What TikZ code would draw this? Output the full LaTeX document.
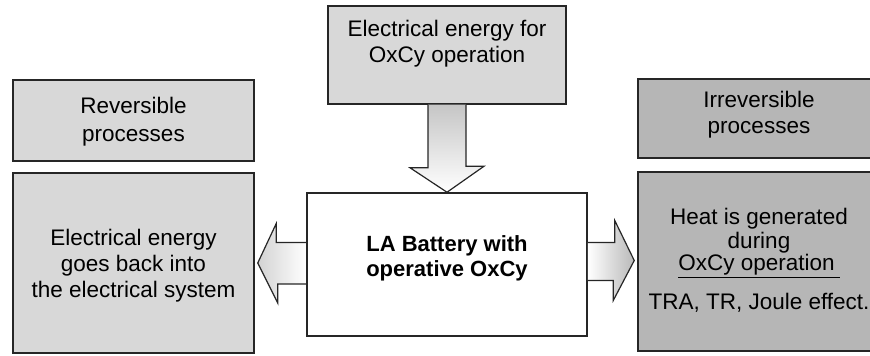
\documentclass[tikz,border=0pt]{standalone}
\usepackage{fontspec}
\setmainfont{Liberation Sans}
\usepackage{xcolor}
\usetikzlibrary{calc}
\definecolor{boxlight}{HTML}{D8D8D8}
\definecolor{boxdark}{HTML}{B6B6B6}
\definecolor{rimgray}{HTML}{262626}

\begin{document}
\begin{tikzpicture}[
    x=1pt, y=1pt,
    box/.style={draw=rimgray, fill=#1, line width=1.5pt, inner sep=0pt},
    txt/.style={align=center, font=\fontsize{22.5}{26}\selectfont, text=black},
    barrow/.style={draw=rimgray, line width=1.2pt, line join=miter},
]
    \clip (0,0) rectangle (870,356);

    % boxes
    \node[box=boxlight, minimum width=238, minimum height=98] (topbox) at (447,301) {};
    \node[box=boxlight, minimum width=241, minimum height=81] (rev) at (133.5,235.5) {};
    \node[box=boxlight, minimum width=241, minimum height=180] (elec) at (133.5,93) {};
    \node[box=boxdark, minimum width=242, minimum height=79] (irr) at (759,237.5) {};
    \node[box=boxdark, minimum width=242, minimum height=179] (heat) at (759,94.5) {};
    \node[box=white, minimum width=280, minimum height=143] (batt) at (447,91.5) {};

    % texts
    \node[txt] (toptxt) at ([yshift=11]topbox.center) {Electrical energy for\\OxCy operation};
    \node[txt, font=\fontsize{22.5}{28}\selectfont] (revtxt) at ([yshift=-1]rev.center) {Reversible\\processes};
    \node[txt] (electxt) at ([yshift=-3]elec.center) {Electrical energy\\goes back into\\the electrical system};
    \node[txt] (irrtxt) at ([yshift=4]irr.center) {Irreversible\\processes};
    \node[txt, font=\fontsize{22}{25}\selectfont\bfseries] (batttxt) at ([yshift=6]batt.center) {LA Battery with\\operative OxCy};
    \node[txt] (heattxt) at ([yshift=1]heat.center)
        {Heat is generated\\[-2pt]during\\[-4pt]\underline{OxCy operation\hspace{5pt}}\\[13pt]TRA, TR, Joule effect.};

    % block arrows
    \draw[barrow, top color=gray!45, bottom color=white]
        ([xshift=-19]topbox.south) -- ++(0,-63) -- ++(-18,0) -- (batt.north)
        -- ++(37,26) -- ++(-18,0) -- ([xshift=19]topbox.south);
    \draw[barrow, left color=gray!35, right color=white]
        ([yshift=22]batt.west) -- ++(-30,0) -- ++(0,19) -- ([xshift=3]elec.east)
        -- ++(20,-40) -- ++(0,19) -- ([yshift=-19.5]batt.west);
    \draw[barrow, left color=white, right color=gray!55]
        ([yshift=22]batt.east) -- ++(27,0) -- ++(0,22) -- ([xshift=-3,yshift=1]heat.west)
        -- ++(-21,-40) -- ++(0,20) -- ([yshift=-16]batt.east);
\end{tikzpicture}
\end{document}
